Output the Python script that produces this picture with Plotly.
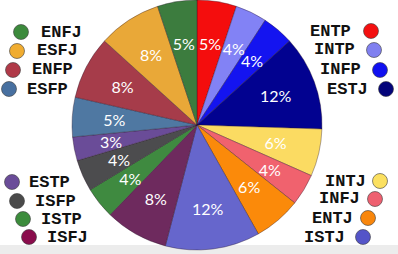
import plotly.graph_objects as go

W, H = 398, 254

types = ["ENTP", "INTP", "INFP", "ESTJ", "INTJ", "INFJ", "ENTJ", "ISTJ",
         "ISFJ", "ISTP", "ISFP", "ESTP", "ESFP", "ENFP", "ESFJ", "ENFJ"]
percents = [5, 4, 4, 12, 6, 4, 6, 12, 8, 4, 4, 3, 5, 8, 8, 5]
slice_colors = ["#f40d0d", "#8282f5", "#1414f0", "#020290", "#fbdb62", "#f0626e",
                "#fb8a0a", "#6666cc", "#6e2a5e", "#3f8a40", "#4c4c4e", "#6a4c98",
                "#4f78a2", "#a63c4a", "#e9a838", "#3c7c3e"]
legend_colors = ["#f41010", "#8080f0", "#1010f0", "#04047a", "#fbe060", "#ee6070",
                 "#f8860c", "#5454c8", "#8a0c4c", "#3c8c3c", "#4a4a4a", "#6a4c98",
                 "#4870a0", "#b03a48", "#f0ac30", "#3c8a3c"]

# legend layout (pixel positions): side, text anchor x, circle centre x, row y
legend_pos = {
    "ENFJ": ("L", 39, 21, 32), "ESFJ": ("L", 35, 17, 51),
    "ENFP": ("L", 30, 13, 70), "ESFP": ("L", 25, 9, 89),
    "ESTP": ("L", 27, 12, 182), "ISFP": ("L", 33, 17, 201),
    "ISTP": ("L", 39, 23, 219), "ISFJ": ("L", 45, 29, 237),
    "ENTP": ("R", 353, 371, 31), "INTP": ("R", 357, 374, 50),
    "INFP": ("R", 363, 380, 70), "ESTJ": ("R", 370, 386, 89),
    "INTJ": ("R", 368, 380, 181), "INFJ": ("R", 362, 375, 199),
    "ENTJ": ("R", 355, 368, 218), "ISTJ": ("R", 347, 363, 237),
}

cx, cy, r = 197, 125, 125


def dom(rad):
    return dict(x=[(cx - rad) / W, (cx + rad) / W],
                y=[(H - cy - rad) / H, (H - cy + rad) / H])


labels_txt = [f"{p}%" for p in percents]
clear = ["rgba(0,0,0,0)"] * len(types)
tfont = dict(family="Lato", size=16, color="white")

fig = go.Figure()
# coloured slices
fig.add_trace(go.Pie(
    labels=types, values=percents, textinfo="none",
    marker=dict(colors=slice_colors, line=dict(color="rgba(40,20,40,0.45)", width=0.8)),
    sort=False, direction="clockwise", rotation=0, showlegend=False,
    hoverinfo="label+percent", domain=dom(r),
))
# labels for the wider slices (ring keeps them at a fixed radius)
fig.add_trace(go.Pie(
    labels=types, values=percents, text=labels_txt, texttemplate="%{text}",
    textposition=["inside" if p >= 8 else "none" for p in percents],
    insidetextorientation="horizontal", textfont=tfont, hole=0.615,
    marker=dict(colors=clear, line=dict(width=0)),
    sort=False, direction="clockwise", rotation=0, showlegend=False,
    hoverinfo="skip", domain=dom(104),
))
# labels for the narrower slices
fig.add_trace(go.Pie(
    labels=types, values=percents, text=labels_txt, texttemplate="%{text}",
    textposition=["inside" if p < 8 else "none" for p in percents],
    insidetextorientation="horizontal", textfont=tfont,
    marker=dict(colors=clear, line=dict(width=0)),
    sort=False, direction="clockwise", rotation=0, showlegend=False,
    hoverinfo="skip", domain=dom(96),
))

shapes = [dict(type="rect", xref="paper", yref="paper", x0=0, x1=1,
               y0=0, y1=9 / H, fillcolor="#ececec", line=dict(width=0), layer="below")]
annotations = []
for t, col in zip(types, legend_colors):
    side, tx, mx, my = legend_pos[t]
    rr = 7.5
    shapes.append(dict(type="circle", xref="paper", yref="paper",
                       x0=(mx - rr) / W, x1=(mx + rr) / W,
                       y0=(H - my - rr) / H, y1=(H - my + rr) / H,
                       fillcolor=col, line=dict(color="rgba(60,60,60,0.6)", width=1)))
    annotations.append(dict(
        text=f"<b>{t}</b>", x=tx / W, y=(H - my) / H, xref="paper", yref="paper",
        xanchor="left" if side == "L" else "right", yanchor="middle",
        showarrow=False, font=dict(family="Liberation Mono", size=17, color="#111111")))

fig.update_layout(
    width=W, height=H,
    margin=dict(l=0, r=0, t=0, b=0),
    paper_bgcolor="white",
    plot_bgcolor="white",
    uniformtext=dict(mode="show", minsize=16),
    shapes=shapes,
    annotations=annotations,
)

fig.write_html("out.html")
